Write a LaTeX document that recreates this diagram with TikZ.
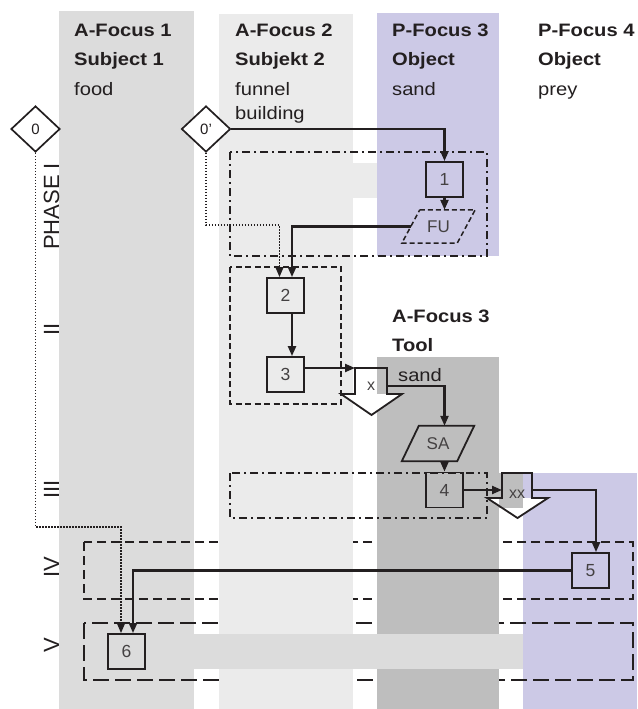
\documentclass[tikz,border=0pt]{standalone}
\usepackage{fontspec}
\setmainfont{Liberation Sans}
\newfontfamily\headfont{Liberation Sans}[FakeStretch=1.12]
\usetikzlibrary{arrows.meta,shapes.geometric}

\definecolor{laneA}{HTML}{DCDCDC}
\definecolor{laneB}{HTML}{EBEBEB}
\definecolor{laneP}{HTML}{CCC9E6}
\definecolor{laneT}{HTML}{BEBEBE}
\definecolor{ink}{HTML}{231F20}

\begin{document}
\begin{tikzpicture}[x=1pt,y=-1pt,
  every node/.style={text=ink},
  head/.style={font=\headfont\bfseries\fontsize{18}{20}\selectfont, anchor=base west, inner sep=0},
  sub/.style={font=\headfont\fontsize{18}{20}\selectfont, anchor=base west, inner sep=0},
  phaselabel/.style={font=\fontsize{22}{24}\selectfont, rotate=90, inner sep=0},
  stepbox/.style={draw=ink, line width=1.8pt, minimum width=37pt, minimum height=35pt, inner sep=0, font=\fontsize{17.5}{19}\selectfont, text=ink!85},
  slantbox/.style={minimum height=35pt, inner sep=0, font=\fontsize{17}{19}\selectfont, text=ink!85},
  startmark/.style={diamond, draw=ink, fill=white, line width=1.7pt, minimum width=49pt, minimum height=46pt, inner sep=0, font=\fontsize{15}{17}\selectfont},
  arrowlabel/.style={inner sep=0, font=\fontsize{16}{18}\selectfont, text=ink!85},
  flow/.style={draw=ink, line width=2.2pt, -{Triangle[length=10pt,width=8pt]}},
  dotflow/.style={draw=ink, line width=1.5pt, dash pattern=on 1.4pt off 1.6pt, -{Triangle[length=10pt,width=8pt]}},
  frameI/.style={draw=ink, line width=1.7pt, dash pattern=on 8pt off 4pt on 2pt off 4pt},
  frameII/.style={draw=ink, line width=1.7pt, dash pattern=on 6pt off 3.5pt},
  frameIV/.style={draw=ink, line width=1.7pt, dash pattern=on 9pt off 5pt},
  frameV/.style={draw=ink, line width=1.7pt, dash pattern=on 16pt off 6pt},
  blockarrow/.style={draw=ink, line width=1.8pt, line join=miter},
]
\useasboundingbox (0,0) rectangle (637,709);

% swim lanes (first layer)
\fill[laneA] (59,11) rectangle (194,709);
\fill[laneP] (377,13) rectangle (499,256);
\fill[laneP] (523,473) rectangle (637,709);

% phase IV and V frames lie beneath lane 2 and the tool lane
\draw[frameIV] (84,542) rectangle (633,599);
\draw[frameV] (84,623) rectangle (633,680);

% lanes drawn over those frames
\fill[laneB] (219,14) rectangle (353,709);
\fill[laneT] (377,357) rectangle (499,709);

% horizontal bridges between lanes
\fill[laneB] (353,163) rectangle (377,198);
\fill[laneA] (194,634) rectangle (523,669);

% phase I, II, III frames
\draw[frameI] (230,152) rectangle (487,256);
\draw[frameII] (230,267) rectangle (341,404);
\draw[frameI] (230,473) rectangle (487,518);

% lane headings
\node[head] (h1a) at (74,37) {A-Focus 1};
\node[head] (h1b) at (74,66) {Subject 1};
\node[sub]  (h1c) at (74,95) {food};
\node[head] (h2a) at (235,37) {A-Focus 2};
\node[head] (h2b) at (235,66) {Subjekt 2};
\node[sub]  (h2c) at (235,95) {funnel};
\node[sub]  (h2d) at (235,119) {building};
\node[head] (h3a) at (392,37) {P-Focus 3};
\node[head] (h3b) at (392,66) {Object};
\node[sub]  (h3c) at (392,95) {sand};
\node[head] (h4a) at (538,37) {P-Focus 4};
\node[head] (h4b) at (538,66) {Object};
\node[sub]  (h4c) at (538,95) {prey};
\node[head] (h5a) at (392,322) {A-Focus 3};
\node[head] (h5b) at (392,351) {Tool};
\node[sub]  (h5c) at (398,381) {sand};

% phase labels
\node[phaselabel, anchor=base west] (p1) at (59,250) {PHASE I};
\node[phaselabel, anchor=base] (p2) at (59,329.5) {II};
\node[phaselabel, anchor=base] (p3) at (59,489.5) {III};
\node[phaselabel, anchor=base] (p4) at (59,567) {IV};
\node[phaselabel, anchor=base] (p5) at (59,645) {V};

% block arrows: white heads, open shafts
\fill[white] (341,394) -- (402,394) -- (371.5,415) -- cycle;
\fill[white] (487,498) -- (548,498) -- (517.5,518) -- cycle;
\fill[laneT] (499,473) rectangle (523,508);
\draw[blockarrow] (355,368) -- (387,368) -- (387,394) -- (402,394) -- (371.5,415) -- (341,394) -- (355,394) -- cycle;
\draw[blockarrow] (502,473) -- (532,473) -- (532,498) -- (548,498) -- (517.5,518) -- (487,498) -- (502,498) -- cycle;
\node[arrowlabel] (xa) at (371,386) {x};
\node[arrowlabel] (xxa) at (517,494) {xx};
\coordinate (xin) at (355,368);
\coordinate (xout) at (387,386);
\coordinate (xxin) at (502,490);
\coordinate (xxout) at (532,490);

% start markers
\node[startmark] (d0) at (35.5,129) {0};
\node[startmark] (d0p) at (206,129) {0'};

% steps
\node[stepbox] (b1) at (444.5,179.5) {1};
\node[stepbox] (b2) at (285.5,295.5) {2};
\node[stepbox] (b3) at (285.5,374.5) {3};
\node[stepbox] (b4) at (444.5,490) {4};
\node[stepbox] (b5) at (590.5,570.5) {5};
\node[stepbox] (b6) at (126.5,651.5) {6};

% data items
\node[slantbox, minimum width=37pt, minimum height=33pt] (FU) at (438.5,226.5) {FU};
\draw[draw=ink, line width=1.5pt, dash pattern=on 5pt off 3pt]
  (FU.north west) -- ([xshift=18pt]FU.north east) -- (FU.south east) -- ([xshift=-18pt]FU.south west) -- cycle;
\node[slantbox, minimum width=38pt] (SA) at (438,443.5) {SA};
\draw[draw=ink, line width=1.8pt]
  (SA.north west) -- ([xshift=17pt]SA.north east) -- (SA.south east) -- ([xshift=-17pt]SA.south west) -- cycle;

% flow connectors
\draw[flow] (d0p.east) -| (b1.north);
\draw[flow] (b1.south) -- (b1.south |- FU.north);
\draw[flow] ([xshift=-9pt]FU.west) -| ([xshift=6.5pt]b2.north);
\draw[flow] ([xshift=6.5pt]b2.south) -- ([xshift=6.5pt]b3.north);
\draw[flow] (b3.east |- xin) -- (xin);
\draw[flow] (xout) -| (b4.north |- SA.north);
\draw[flow] (b4.north |- SA.south) -- (b4.north);
\draw[flow] (b4.east) -- (xxin);
\draw[flow] (xxout) -| ([xshift=5.5pt]b5.north);
\draw[flow] (b5.west) -| ([xshift=6.5pt]b6.north);

% dotted start links
\coordinate (bendA) at (121,527);
\coordinate (bendB) at (279.5,225);
\draw[dotflow] (d0.south) |- (bendA) -- ([xshift=-5.5pt]b6.north);
\draw[dotflow] (d0p.south) |- (bendB) -- ([xshift=-6pt]b2.north);
\end{tikzpicture}
\end{document}
